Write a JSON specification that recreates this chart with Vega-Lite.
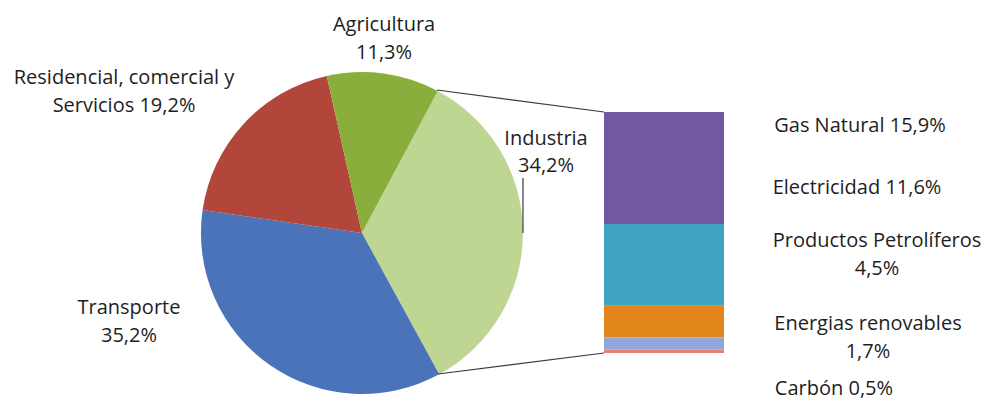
{
  "$schema": "https://vega.github.io/schema/vega-lite/v6.json",
  "width": 986,
  "height": 402,
  "autosize": {"type": "none"},
  "padding": 0,
  "background": "white",
  "config": {"view": {"stroke": null}},
  "datasets": {
    "sectores": [
      {"nombre": "Industria", "valor": 34.2, "orden": 1},
      {"nombre": "Transporte", "valor": 35.2, "orden": 2},
      {"nombre": "Residencial", "valor": 19.2, "orden": 3},
      {"nombre": "Agricultura", "valor": 11.3, "orden": 4}
    ],
    "industria": [
      {"nombre": "Carbón", "valor": 0.5, "orden": 1},
      {"nombre": "Energias renovables", "valor": 1.7, "orden": 2},
      {"nombre": "Productos Petrolíferos", "valor": 4.5, "orden": 3},
      {"nombre": "Electricidad", "valor": 11.6, "orden": 4},
      {"nombre": "Gas Natural", "valor": 15.9, "orden": 5}
    ],
    "conectores": [
      {"x": 44.32, "y": 37.32, "x2": 61.26, "y2": 34.2, "tipo": "conector"},
      {"x": 44.42, "y": -2.98, "x2": 61.26, "y2": 0, "tipo": "conector"},
      {"x": 53.04, "y": 24.83, "x2": 53.04, "y2": 17.03, "tipo": "guia"}
    ],
    "etiquetas": [
      {"texto": "Agricultura\n11,3%", "x": 38.95, "y": 45.69},
      {"texto": "Residencial, comercial y\nServicios 19,2%", "x": 12.58, "y": 38.17},
      {"texto": "Industria\n34,2%", "x": 55.38, "y": 29.52},
      {"texto": "Transporte\n35,2%", "x": 13.08, "y": 5.5},
      {"texto": "Gas Natural 15,9%", "x": 87.22, "y": 31.3},
      {"texto": "Electricidad 11,6%", "x": 86.92, "y": 22.5},
      {"texto": "Productos Petrolíferos\n4,5%", "x": 88.95, "y": 15.04},
      {"texto": "Energias renovables\n1,7%", "x": 88.03, "y": 3.26},
      {"texto": "Carbón 0,5%", "x": 84.58, "y": -6.0}
    ]
  },
  "layer": [
    {
      "data": {"name": "sectores"},
      "mark": {"type": "arc", "outerRadius": 161, "stroke": null},
      "encoding": {
        "x": {"datum": 36.71, "type": "quantitative", "scale": {"domain": [0, 100], "nice": false, "zero": false}, "axis": null},
        "y": {"datum": 17.03, "type": "quantitative", "scale": {"domain": [-6.954, 50.094], "nice": false, "zero": false}, "axis": null},
        "theta": {"field": "valor", "type": "quantitative", "stack": true, "scale": {"range": [0.4904, 6.7736]}},
        "order": {"field": "orden", "type": "quantitative"},
        "color": {
          "field": "nombre", "type": "nominal", "legend": null,
          "scale": {
            "domain": ["Industria", "Transporte", "Residencial", "Agricultura", "Gas Natural", "Electricidad", "Productos Petrolíferos", "Energias renovables", "Carbón"],
            "range": ["#bfd693", "#4a73b9", "#b3463a", "#8aae3b", "#7159a2", "#41a3c2", "#e3871d", "#91a7db", "#e6806f"]
          }
        }
      }
    },
    {
      "data": {"name": "industria"},
      "transform": [
        {"stack": "valor", "groupby": [], "sort": [{"field": "orden", "order": "ascending"}], "as": ["v0", "v1"]}
      ],
      "mark": {"type": "rect"},
      "encoding": {
        "x": {"datum": 61.26, "type": "quantitative", "scale": {"domain": [0, 100], "nice": false, "zero": false}, "axis": null},
        "x2": {"datum": 73.43},
        "y": {"field": "v0", "type": "quantitative", "scale": {"domain": [-6.954, 50.094], "nice": false, "zero": false}, "axis": null},
        "y2": {"field": "v1"},
        "color": {
          "field": "nombre", "type": "nominal", "legend": null,
          "scale": {
            "domain": ["Industria", "Transporte", "Residencial", "Agricultura", "Gas Natural", "Electricidad", "Productos Petrolíferos", "Energias renovables", "Carbón"],
            "range": ["#bfd693", "#4a73b9", "#b3463a", "#8aae3b", "#7159a2", "#41a3c2", "#e3871d", "#91a7db", "#e6806f"]
          }
        }
      }
    },
    {
      "data": {"name": "conectores"},
      "mark": {"type": "rule", "color": "#3a3a3a", "strokeWidth": 1.2},
      "encoding": {
        "x": {"field": "x", "type": "quantitative", "scale": {"domain": [0, 100], "nice": false, "zero": false}, "axis": null},
        "y": {"field": "y", "type": "quantitative", "scale": {"domain": [-6.954, 50.094], "nice": false, "zero": false}, "axis": null},
        "x2": {"field": "x2"},
        "y2": {"field": "y2"}
      }
    },
    {
      "data": {"name": "etiquetas"},
      "mark": {"type": "text", "font": "Open Sans", "fontSize": 20, "color": "#1e1e1e", "align": "center", "baseline": "alphabetic", "lineBreak": "\n", "lineHeight": 27.5},
      "encoding": {
        "x": {"field": "x", "type": "quantitative", "scale": {"domain": [0, 100], "nice": false, "zero": false}, "axis": null},
        "y": {"field": "y", "type": "quantitative", "scale": {"domain": [-6.954, 50.094], "nice": false, "zero": false}, "axis": null},
        "text": {"field": "texto"}
      }
    }
  ]
}
